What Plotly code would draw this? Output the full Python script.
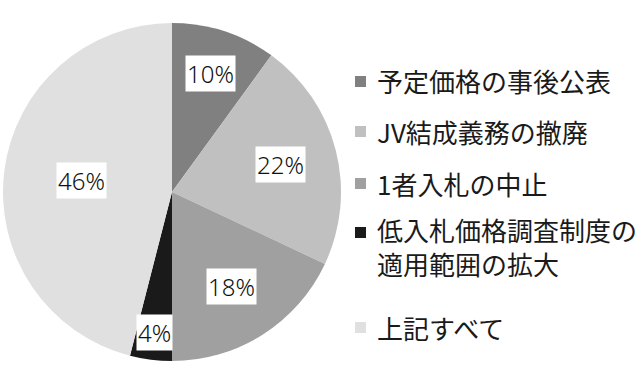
import math
import plotly.graph_objects as go

categories = ["予定価格の事後公表", "JV結成義務の撤廃", "1者入札の中止",
              "低入札価格調査制度の<br>適用範囲の拡大", "上記すべて"]
values = [10, 22, 18, 4, 46]
pct_labels = ["10%", "22%", "18%", "4%", "46%"]

colors = ["#808080", "#c0c0c0", "#a0a0a0", "#1a1a1a", "#e0e0e0"]
label_r = [0.74, 0.66, 0.66, 0.84, 0.54]

W, H = 640, 386
cx, cy, R = 172, 192, 169  # pixel centre / radius of the pie

fig = go.Figure(go.Pie(
    labels=categories, values=values, sort=False, direction="clockwise",
    rotation=0, textinfo="none", hoverinfo="label+percent",
    marker=dict(colors=colors, line=dict(width=0)),
    domain=dict(x=[(cx - R) / W, (cx + R) / W], y=[(H - cy - R) / H, (H - cy + R) / H]),
    showlegend=False,
))

annotations = []
shapes = []
total = sum(values)
cum = 0
for v, lab, f in zip(values, pct_labels, label_r):
    th = 2 * math.pi * (cum + v / 2) / total
    cum += v
    px = cx + R * f * math.sin(th)
    py = (H - cy) + R * f * math.cos(th)
    annotations.append(dict(
        x=px / W, y=py / H, xref="paper", yref="paper", text=lab, showarrow=False,
        font=dict(family="Noto Sans, DejaVu Sans", size=24, color="#111111", weight=300),
        bgcolor="white", borderpad=1, xanchor="center", yanchor="middle"))

# custom legend
leg_y = [81, 131, 183, 246, 327]
for cat, col, ly in zip(categories, colors, leg_y):
    annotations.append(dict(
        x=375 / W, y=1 - ly / H, xref="paper", yref="paper", text=cat, showarrow=False,
        font=dict(family="Noto Sans CJK JP", size=26, color="#1a1a1a"),
        xanchor="left", yanchor="middle", align="left"))
    sy = ly if "<br>" not in cat else ly - 14
    shapes.append(dict(type="rect", xref="paper", yref="paper",
                       x0=355 / W, x1=366 / W,
                       y0=1 - (sy + 6) / H, y1=1 - (sy - 5) / H,
                       fillcolor=col, line=dict(width=0)))

fig.update_layout(
    width=W, height=H, margin=dict(l=0, r=0, t=0, b=0),
    paper_bgcolor="white", plot_bgcolor="white",
    annotations=annotations, shapes=shapes,
)
fig.write_html("out.html", config={"displayModeBar": False},
               post_script="document.body.style.margin='0';")
